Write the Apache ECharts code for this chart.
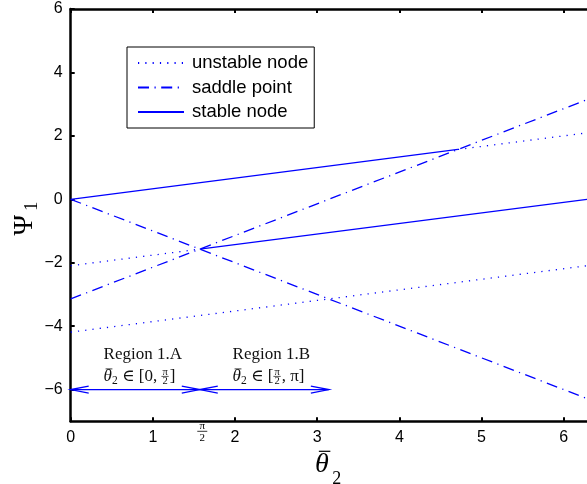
<!DOCTYPE html>
<html>
<head>
<meta charset="utf-8">
<script src="https://cdn.jsdelivr.net/npm/echarts@6/dist/echarts.min.js"></script>
<style>html,body{margin:0;padding:0;background:#fff}#c{width:587px;height:484px}</style>
</head>
<body>
<div id="c"></div>
<script>
// ---- data ----
const xTicks = [0, 1, 2, 3, 4, 5, 6];
const yTicks = [-6, -4, -2, 0, 2, 4, 6];
const legendNames = ['unstable node', 'saddle point', 'stable node'];

// unstable node (dotted)
const unstableLowX = [0, 6.2832];   const unstableLowY = [-4.1888, -2.0944];
const unstableMidX = [0, 1.5708];   const unstableMidY = [-2.0944, -1.5708];
const unstableTopX = [4.7124, 6.2832]; const unstableTopY = [1.5708, 2.0944];
// saddle point (dash-dot)
const saddleDownX = [0, 6.2832];    const saddleDownY = [0, -6.2832];
const saddleUpX = [0, 6.2832];      const saddleUpY = [-3.1416, 3.1416];
// stable node (solid)
const stableTopX = [0, 4.7124];     const stableTopY = [0, 1.5708];
const stableMidX = [1.5708, 6.2832]; const stableMidY = [-1.5708, 0];

// region arrows
const arrowStartX = [0, 1.5708];
const arrowEndX = [1.5708, 3.1416];
const arrowY = -6;
// region labels
const regionNames = ['Region 1.A', 'Region 1.B'];
const regionLeftX = [0.40, 1.97];
const regionTitleY = -4.9;
const regionMathY = -5.6;
const piHalf = 1.5708;

// ---- helpers ----
const SERIF = '"Liberation Serif","DejaVu Serif",serif';
const SANS = '"Liberation Sans", Arial, sans-serif';
const mctx = document.createElement('canvas').getContext('2d');
function tw(t, font) { mctx.font = font; return mctx.measureText(t).width; }
function txt(t, x, y, font, align, fill) {
  return {type: 'text', x: x, y: y, style: {text: t, font: font, fill: fill || '#111', align: align || 'left', verticalAlign: 'middle'}};
}
function seg(x1, y1, x2, y2, w, c) {
  return {type: 'line', shape: {x1: x1, y1: y1, x2: x2, y2: y2}, style: {stroke: c || '#111', lineWidth: w || 0.8}};
}
function mathRow(x0, yc, pieces) {
  const els = []; let x = x0;
  pieces.forEach(function (p) {
    if (p.frac) {
      const w = Math.max(tw(p.frac[0], p.font), tw(p.frac[1], p.font)) + 2;
      els.push(txt(p.frac[0], x + w / 2, yc - 4.5, p.font, 'center'));
      els.push(seg(x, yc - 0.5, x + w, yc - 0.5, 0.7));
      els.push(txt(p.frac[1], x + w / 2, yc + 4.2, p.font, 'center'));
      x += w + 1;
    } else {
      const w = tw(p.t, p.font);
      els.push(txt(p.t, x, yc + (p.dy || 0), p.font, 'left'));
      if (p.bar) els.push(seg(x + 2, yc - 8, x + w + 0.5, yc - 8, 0.8));
      x += w;
    }
  });
  return els;
}
function pts(xs, ys) { return xs.map(function (x, i) { return [x, ys[i]]; }); }

const BLUE = '#0000ff';
const LW = 1.3;
const DOT = [1.2, 6.1];
const DASHDOT = [11, 5.5, 1.2, 5.5];

function lineSeries(name, xs, ys, type) {
  return {
    type: 'line', name: name, data: pts(xs, ys), symbol: 'none', showSymbol: false,
    lineStyle: {color: BLUE, width: LW, type: type}, itemStyle: {color: BLUE},
    emphasis: {disabled: true}, silent: true, z: 3
  };
}

const fracFont = '10.5px ' + SERIF;
const mainFont = '17px ' + SERIF;
const itFont = 'italic 17px ' + SERIF;
const subFont = '11.5px ' + SERIF;

const chart = echarts.init(document.getElementById('c'), null, {renderer: 'canvas'});
const axisCommon = {
  type: 'value', min: 0, max: 6.2832,
  axisLine: {show: true, onZero: false, lineStyle: {color: '#000', width: 2.5}},
  axisTick: {show: true, inside: true, length: 4, customValues: xTicks, lineStyle: {color: '#000', width: 2}},
  splitLine: {show: false}
};
const option = {
  animation: false,
  backgroundColor: '#fff',
  grid: {left: 70.7, top: 9, width: 521.5, height: 412.3, containLabel: false},
  legend: {
    data: legendNames, orient: 'vertical', left: 127, top: 47,
    itemWidth: 46, itemHeight: 14, itemGap: 4.5,
    padding: [6, 6, 6, 10], borderColor: '#000', borderWidth: 1, backgroundColor: '#fff',
    selectedMode: false,
    itemStyle: {opacity: 0},
    textStyle: {fontSize: 18.5, lineHeight: 20, color: '#000', fontFamily: SANS, padding: [0, 0, 0, 3]}
  },
  xAxis: [
    Object.assign({}, axisCommon, {
      position: 'bottom',
      axisLabel: {show: true, customValues: xTicks, margin: 8, fontSize: 16, color: '#000', fontFamily: SANS}
    }),
    Object.assign({}, axisCommon, {position: 'top', axisLabel: {show: false}})
  ],
  yAxis: {
    type: 'value', min: -7, max: 6, interval: 1,
    axisLine: {show: true, onZero: false, lineStyle: {color: '#000', width: 2.5}},
    axisTick: {show: true, inside: true, length: 4, customValues: yTicks, lineStyle: {color: '#000', width: 2}},
    axisLabel: {show: true, customValues: yTicks, margin: 8, fontSize: 16, color: '#000', fontFamily: SANS,
      formatter: function (v) { return String(v).replace('-', '\u2212'); }},
    splitLine: {show: false}
  },
  series: [
    lineSeries('unstable node', unstableLowX, unstableLowY, DOT),
    lineSeries('unstable node', unstableMidX, unstableMidY, DOT),
    lineSeries('unstable node', unstableTopX, unstableTopY, DOT),
    lineSeries('saddle point', saddleDownX, saddleDownY, DASHDOT),
    lineSeries('saddle point', saddleUpX, saddleUpY, DASHDOT),
    lineSeries('stable node', stableTopX, stableTopY, 'solid'),
    lineSeries('stable node', stableMidX, stableMidY, 'solid'),
    {
      type: 'custom', name: 'arrows', clip: false, silent: true, z: 4,
      encode: {x: [0, 1], y: 2},
      data: arrowStartX.map(function (s, i) { return [s, arrowEndX[i], arrowY]; }),
      renderItem: function (params, api) {
        const a = api.coord([api.value(0), api.value(2)]);
        const b = api.coord([api.value(1), api.value(2)]);
        const L = 18, H = 3.5, st = {stroke: BLUE, lineWidth: LW, fill: null};
        return {type: 'group', children: [
          {type: 'line', shape: {x1: a[0], y1: a[1], x2: b[0], y2: b[1]}, style: st},
          {type: 'polyline', shape: {points: [[a[0] + L, a[1] - H], [a[0], a[1]], [a[0] + L, a[1] + H]]}, style: st},
          {type: 'polyline', shape: {points: [[b[0] - L, b[1] - H], [b[0], b[1]], [b[0] - L, b[1] + H]]}, style: st}
        ]};
      }
    },
    {
      type: 'custom', name: 'regions', clip: false, silent: true, z: 5,
      data: regionLeftX.map(function (x) { return [x, regionTitleY]; }),
      renderItem: function (params, api) {
        const i = params.dataIndex;
        const p = api.coord([api.value(0), api.value(1)]);
        const q = api.coord([api.value(0), regionMathY]);
        const pieces = [
          {t: 'θ', font: itFont, bar: true},
          {t: '2', font: subFont, dy: 4},
          {t: ' ∈ ', font: mainFont}
        ];
        if (i === 0) {
          pieces.push({t: '[0, ', font: mainFont}, {frac: ['π', '2'], font: fracFont}, {t: ']', font: mainFont});
        } else {
          pieces.push({t: '[', font: mainFont}, {frac: ['π', '2'], font: fracFont}, {t: ', π]', font: mainFont});
        }
        return {type: 'group', children: [txt(regionNames[i], p[0], p[1], mainFont, 'left')].concat(mathRow(q[0], q[1], pieces))};
      }
    },
    {
      type: 'custom', name: 'labels', clip: false, silent: true, z: 5,
      data: [[piHalf, -7]],
      renderItem: function (params, api) {
        const p = api.coord([api.value(0), api.value(1)]);
        const ax = api.coord([3.1416, -7]);
        const ay = api.coord([0, -0.5]);
        const cx = p[0] + 2.5;
        const els = [
          txt('π', cx, p[1] + 5, '11px ' + SERIF, 'center', '#000'),
          seg(cx - 5, p[1] + 10, cx + 5, p[1] + 10, 0.8, '#000'),
          txt('2', cx, p[1] + 16.5, '11px ' + SERIF, 'center', '#000'),
          // x axis name  θ̄2
          txt('θ', ax[0] - 7, ax[1] + 43, 'italic 28px ' + SERIF, 'center', '#000'),
          seg(ax[0] - 10, ax[1] + 30, ax[0] + 1.5, ax[1] + 30, 1.2, '#000'),
          txt('2', ax[0] + 8, ax[1] + 58, '18px ' + SERIF, 'center', '#000'),
          // y axis name  Ψ1
          {type: 'text', x: 25, y: ay[1] + 10, rotation: Math.PI / 2, style: {text: 'Ψ', font: '28px ' + SERIF, fill: '#000', align: 'center', verticalAlign: 'middle'}},
          {type: 'text', x: 32, y: ay[1] - 9, rotation: Math.PI / 2, style: {text: '1', font: '18px ' + SERIF, fill: '#000', align: 'center', verticalAlign: 'middle'}}
        ];
        return {type: 'group', children: els};
      }
    }
  ]
};
chart.setOption(option);
</script>
</body>
</html>
